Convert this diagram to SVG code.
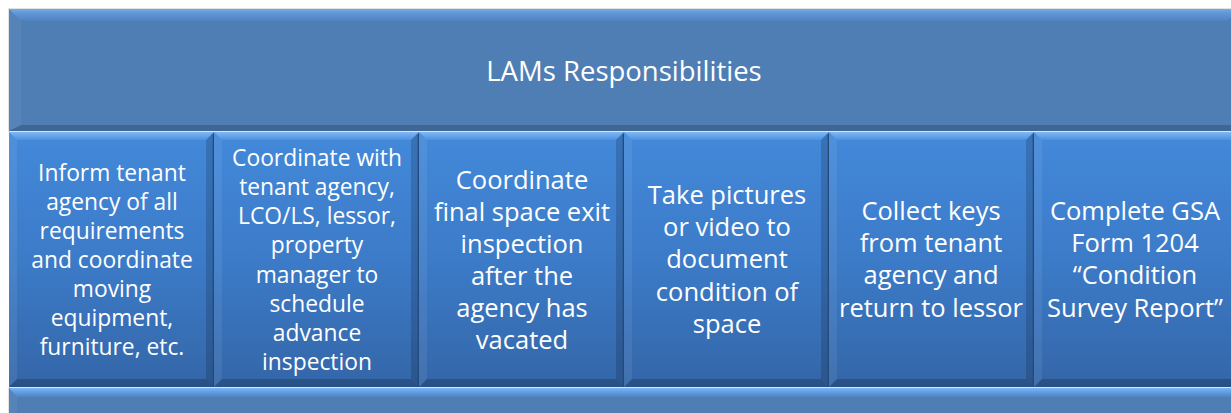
<svg xmlns="http://www.w3.org/2000/svg" width="1231" height="413" viewBox="0 0 1231 413">
<style>
text{font-family:"Open Sans","Noto Sans",sans-serif;fill:#ffffff;text-anchor:middle}
.h{font-size:27.5px}
.s{font-size:22.8px}
.m{font-size:25.5px}
.body{fill:url(#colGrad)}
.tb{fill:url(#topBev)}
.lb{fill:#ffffff;fill-opacity:0.07}
.rb{fill:#000000;fill-opacity:0.16}
.bb{fill:#000000;fill-opacity:0.2}
.edge{stroke:#23497d;stroke-width:1.6;fill:none}
</style>
<defs>
<linearGradient id="colGrad" x1="0" y1="0" x2="0" y2="1">
<stop offset="0" stop-color="#4389da"/>
<stop offset="0.5" stop-color="#3c7bc8"/>
<stop offset="1" stop-color="#3466a8"/>
</linearGradient>
<linearGradient id="topBev" x1="0" y1="0" x2="0" y2="1">
<stop offset="0" stop-color="#80b8f4"/>
<stop offset="1" stop-color="#4f90de"/>
</linearGradient>
<linearGradient id="hdrTop" x1="0" y1="0" x2="0" y2="1">
<stop offset="0" stop-color="#75aaea"/>
<stop offset="0.3" stop-color="#6399d9"/>
<stop offset="1" stop-color="#5083bd"/>
</linearGradient>
<linearGradient id="barTop" x1="0" y1="0" x2="0" y2="1">
<stop offset="0" stop-color="#7db6f4"/>
<stop offset="0.4" stop-color="#64a0e6"/>
<stop offset="1" stop-color="#5283bf"/>
</linearGradient>
</defs>

<g id="header">
<rect x="8" y="8" width="1240" height="124" fill="#c8c8c8" fill-opacity="0.5"/>
<rect x="9" y="9" width="1230" height="122" fill="#4f7eb5"/>
<polygon points="9,9 1239,9 1227,21 21,21" fill="url(#hdrTop)"/>
<polygon points="9,9 21,21 21,125 9,131" fill="#ffffff" fill-opacity="0.05"/>
<polygon points="9,131 1239,131 1233,125 21,125" fill="#000000" fill-opacity="0.18"/>
<text class="h" x="624" y="81">LAMs Responsibilities</text>
</g>

<g id="col1">
<rect class="body" x="9" y="132" width="205" height="255"/>
<polygon class="tb" points="9,132 214,132 206,140 17,140"/>
<polygon class="lb" points="9,132 17,140 17,379 9,387"/>
<polygon class="rb" points="214,132 214,387 206,379 206,140"/>
<polygon class="bb" points="9,387 214,387 206,379 17,379"/>
<line class="edge" x1="213.5" y1="134" x2="213.5" y2="387"/>
<text class="s" x="112" y="181">Inform tenant</text>
<text class="s" x="112" y="210">agency of all</text>
<text class="s" x="112" y="239">requirements</text>
<text class="s" x="112" y="268">and coordinate</text>
<text class="s" x="112" y="297">moving</text>
<text class="s" x="112" y="326">equipment,</text>
<text class="s" x="112" y="355">furniture, etc.</text>
</g>

<g id="col2">
<rect class="body" x="214" y="132" width="205" height="255"/>
<polygon class="tb" points="214,132 419,132 411,140 222,140"/>
<polygon class="lb" points="214,132 222,140 222,379 214,387"/>
<polygon class="rb" points="419,132 419,387 411,379 411,140"/>
<polygon class="bb" points="214,387 419,387 411,379 222,379"/>
<line class="edge" x1="418.5" y1="134" x2="418.5" y2="387"/>
<text class="s" x="317" y="166">Coordinate with</text>
<text class="s" x="317" y="195">tenant agency,</text>
<text class="s" x="317" y="224">LCO/LS, lessor,</text>
<text class="s" x="317" y="253">property</text>
<text class="s" x="317" y="283">manager to</text>
<text class="s" x="317" y="312">schedule</text>
<text class="s" x="317" y="341">advance</text>
<text class="s" x="317" y="370">inspection</text>
</g>

<g id="col3">
<rect class="body" x="419" y="132" width="205" height="255"/>
<polygon class="tb" points="419,132 624,132 616,140 427,140"/>
<polygon class="lb" points="419,132 427,140 427,379 419,387"/>
<polygon class="rb" points="624,132 624,387 616,379 616,140"/>
<polygon class="bb" points="419,387 624,387 616,379 427,379"/>
<line class="edge" x1="623.5" y1="134" x2="623.5" y2="387"/>
<text class="m" x="522" y="189">Coordinate</text>
<text class="m" x="522" y="221">final space exit</text>
<text class="m" x="522" y="253">inspection</text>
<text class="m" x="522" y="285">after the</text>
<text class="m" x="522" y="317">agency has</text>
<text class="m" x="522" y="349">vacated</text>
</g>

<g id="col4">
<rect class="body" x="624" y="132" width="205" height="255"/>
<polygon class="tb" points="624,132 829,132 821,140 632,140"/>
<polygon class="lb" points="624,132 632,140 632,379 624,387"/>
<polygon class="rb" points="829,132 829,387 821,379 821,140"/>
<polygon class="bb" points="624,387 829,387 821,379 632,379"/>
<line class="edge" x1="828.5" y1="134" x2="828.5" y2="387"/>
<text class="m" x="727" y="204">Take pictures</text>
<text class="m" x="727" y="236">or video to</text>
<text class="m" x="727" y="268">document</text>
<text class="m" x="727" y="301">condition of</text>
<text class="m" x="727" y="333">space</text>
</g>

<g id="col5">
<rect class="body" x="829" y="132" width="205" height="255"/>
<polygon class="tb" points="829,132 1034,132 1026,140 837,140"/>
<polygon class="lb" points="829,132 837,140 837,379 829,387"/>
<polygon class="rb" points="1034,132 1034,387 1026,379 1026,140"/>
<polygon class="bb" points="829,387 1034,387 1026,379 837,379"/>
<line class="edge" x1="1033.5" y1="134" x2="1033.5" y2="387"/>
<text class="m" x="931" y="220">Collect keys</text>
<text class="m" x="931" y="252">from tenant</text>
<text class="m" x="931" y="284">agency and</text>
<text class="m" x="931" y="317">return to lessor</text>
</g>

<g id="col6">
<rect class="body" x="1034" y="132" width="205" height="255"/>
<polygon class="tb" points="1034,132 1239,132 1231,140 1042,140"/>
<polygon class="lb" points="1034,132 1042,140 1042,379 1034,387"/>
<polygon class="rb" points="1239,132 1239,387 1231,379 1231,140"/>
<polygon class="bb" points="1034,387 1239,387 1231,379 1042,379"/>
<text class="m" x="1135" y="220">Complete GSA</text>
<text class="m" x="1135" y="252">Form 1204</text>
<text class="m" x="1135" y="284">“Condition</text>
<text class="m" x="1135" y="317">Survey Report”</text>
</g>

<g id="footer">
<rect x="8" y="387" width="1240" height="30" fill="#c8c8c8" fill-opacity="0.5"/>
<rect x="9" y="388" width="1230" height="30" fill="#4f7eb5"/>
<polygon points="9,388 1239,388 1231,397 17,397" fill="url(#barTop)"/>
<polygon points="9,388 17,397 17,418 9,418" fill="#ffffff" fill-opacity="0.05"/>
</g>

<g id="connectors"></g>
</svg>
